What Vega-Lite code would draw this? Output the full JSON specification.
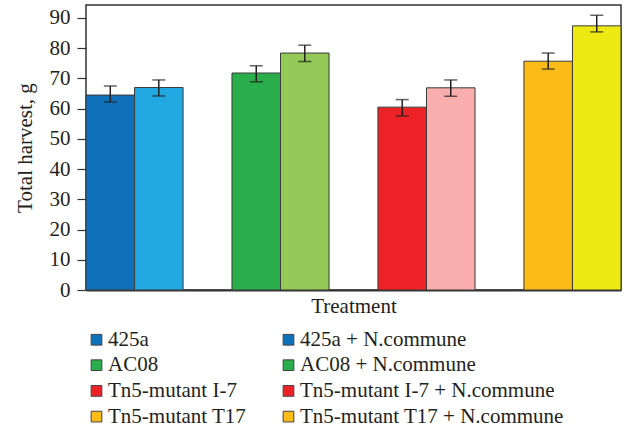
{
  "$schema": "https://vega.github.io/schema/vega-lite/v6.json",
  "width": 535,
  "height": 285,
  "padding": {"left": 14, "top": 5, "right": 5, "bottom": 2},
  "background": "white",
  "config": {
    "view": {"stroke": "#333333", "strokeWidth": 1.5},
    "font": "Liberation Serif"
  },
  "data": {
    "values": [
      {"treatment": "425a", "inoc": "none", "label": "425a", "value": 64.5, "lo": 62.2, "hi": 67.5},
      {"treatment": "425a", "inoc": "N", "label": "425a + N.commune", "value": 67.0, "lo": 64.2, "hi": 69.5},
      {"treatment": "AC08", "inoc": "none", "label": "AC08", "value": 71.8, "lo": 68.9, "hi": 74.2},
      {"treatment": "AC08", "inoc": "N", "label": "AC08 + N.commune", "value": 78.4, "lo": 75.6, "hi": 81.0},
      {"treatment": "Tn5-mutant I-7", "inoc": "none", "label": "Tn5-mutant I-7", "value": 60.5, "lo": 57.6, "hi": 63.0},
      {"treatment": "Tn5-mutant I-7", "inoc": "N", "label": "Tn5-mutant I-7 + N.commune", "value": 66.9, "lo": 64.1, "hi": 69.5},
      {"treatment": "Tn5-mutant T17", "inoc": "none", "label": "Tn5-mutant T17", "value": 75.7, "lo": 73.1, "hi": 78.4},
      {"treatment": "Tn5-mutant T17", "inoc": "N", "label": "Tn5-mutant T17 + N.commune", "value": 87.4, "lo": 85.4, "hi": 90.9}
    ]
  },
  "encoding": {
    "x": {
      "field": "treatment", "type": "nominal",
      "sort": ["425a", "AC08", "Tn5-mutant I-7", "Tn5-mutant T17"],
      "scale": {"paddingInner": 0.335, "paddingOuter": 0},
      "axis": {
        "labels": false, "ticks": false, "title": "Treatment",
        "titleFont": "Liberation Serif", "titleFontSize": 21, "titleFontWeight": "normal",
        "titleColor": "#231f20", "titlePadding": 5,
        "domainColor": "#333333", "domainWidth": 2
      }
    },
    "xOffset": {
      "field": "inoc", "type": "nominal", "sort": ["none", "N"],
      "scale": {"paddingInner": 0, "paddingOuter": 0}
    },
    "y": {
      "field": "value", "type": "quantitative",
      "scale": {"domain": [0, 94.3], "nice": false},
      "axis": {
        "values": [0, 10, 20, 30, 40, 50, 60, 70, 80, 90],
        "labelOverlap": false,
        "grid": false, "domain": false,
        "title": "Total harvest, g",
        "titleFont": "Liberation Serif", "titleFontSize": 21, "titleFontWeight": "normal",
        "titleColor": "#231f20", "titlePadding": 14,
        "labelFont": "Liberation Serif", "labelFontSize": 21, "labelColor": "#231f20",
        "labelPadding": 7, "tickSize": 9, "tickColor": "#333333", "tickWidth": 1.2
      }
    }
  },
  "layer": [
    {
      "mark": {"type": "bar", "stroke": "#3a3a3a", "strokeWidth": 1, "opacity": 1},
      "encoding": {
        "fill": {
          "field": "label", "type": "nominal",
          "scale": {
            "domain": ["425a", "425a + N.commune", "AC08", "AC08 + N.commune", "Tn5-mutant I-7", "Tn5-mutant I-7 + N.commune", "Tn5-mutant T17", "Tn5-mutant T17 + N.commune"],
            "range": ["#0e71b9", "#22a9e1", "#2aae4c", "#92c957", "#ec2227", "#f7aeac", "#fcbc18", "#eee813"]
          },
          "legend": null
        }
      }
    },
    {
      "mark": {"type": "square", "opacity": 0, "filled": true},
      "encoding": {
        "color": {
          "field": "label", "type": "nominal",
          "scale": {
            "domain": ["425a", "AC08", "Tn5-mutant I-7", "Tn5-mutant T17", "425a + N.commune", "AC08 + N.commune", "Tn5-mutant I-7 + N.commune", "Tn5-mutant T17 + N.commune"],
            "range": ["#0e71b9", "#2aae4c", "#ec2227", "#fcbc18", "#0e71b9", "#2aae4c", "#ec2227", "#fcbc18"]
          },
          "legend": {
            "orient": "none", "legendX": 0, "legendY": 324,
            "columns": 2, "title": null, "padding": 0,
            "columnPadding": 31, "rowPadding": 3.7,
            "symbolType": "square", "symbolSize": 115,
            "symbolStrokeColor": "#444444", "symbolStrokeWidth": 1,
            "symbolOpacity": 1,
            "labelFont": "Liberation Serif", "labelFontSize": 21, "labelColor": "#231f20",
            "labelOffset": 1, "labelLimit": 400
          }
        }
      }
    },
    {
      "mark": {"type": "rule", "color": "#231f20", "strokeWidth": 1.5},
      "encoding": {
        "y": {"field": "lo", "type": "quantitative"},
        "y2": {"field": "hi"}
      }
    },
    {
      "mark": {"type": "tick", "color": "#231f20", "thickness": 1.5, "size": 13},
      "encoding": {"y": {"field": "lo", "type": "quantitative"}}
    },
    {
      "mark": {"type": "tick", "color": "#231f20", "thickness": 1.5, "size": 13},
      "encoding": {"y": {"field": "hi", "type": "quantitative"}}
    }
  ]
}
